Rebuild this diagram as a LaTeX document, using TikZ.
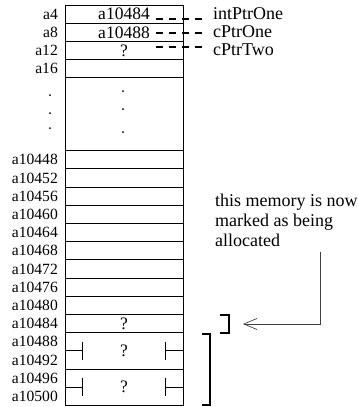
\documentclass[tikz,border=0pt]{standalone}
\usepackage{fontspec}
\setmainfont{Liberation Serif}
\usetikzlibrary{arrows.meta,calc,positioning}

\begin{document}
\begin{tikzpicture}[x=1pt, y=-1pt,
  cell/.style={draw, line width=0.9pt, minimum width=118pt, minimum height=18.2pt, inner sep=0pt, font=\fontsize{17.5}{18}\selectfont},
  addr/.style={anchor=east, inner sep=0pt, font=\fontsize{15.6}{18}\selectfont},
  ptrlabel/.style={anchor=west, inner xsep=9pt, inner ysep=0pt, font=\fontsize{18}{20}\selectfont},
  ptr/.style={line width=1.1pt, dash pattern=on 7pt off 6pt},
  brak/.style={line width=1.4pt},
  alloc/.style={line width=0.7pt, black!75, -{Straight Barb[length=13pt,width=11pt]}}]
\useasboundingbox (0,0) rectangle (358,407);
% Celle in alto
\node[cell] (c1) at (124,14.1) {a10484};
\node[cell] (c2) at (124,32.3) {a10488};
\node[cell] (c3) at (124,50.5) {?};
\node[cell] (c4) at (124,68.7) {};
\node[cell, minimum height=72.8pt] (gap) at (124,114.2) {};
% Celle in basso
\node[cell] (c5) at (124,159.7) {};  \node[cell] (c6) at (124,177.9) {};
\node[cell] (c7) at (124,196.1) {};  \node[cell] (c8) at (124,214.3) {};
\node[cell] (c9) at (124,232.5) {};  \node[cell] (c10) at (124,250.7) {};
\node[cell] (c11) at (124,268.9) {}; \node[cell] (c12) at (124,287.1) {};
\node[cell] (c13) at (124,305.3) {}; \node[cell] (c14) at (124,323.5) {?};
\node[cell, minimum height=36.4pt] (d1) at (124,350.8) {?};
\node[cell, minimum height=36.4pt] (d2) at (124,387.2) {?};
% Indirizzi
\node[addr] (a4) at (58,14.1) {a4};
\node[addr] (a8) at (58,32.3) {a8};
\node[addr] (a12) at (58,50.5) {a12};
\node[addr] (a16) at (58,68.7) {a16};
\node[addr] (b1) at (58,159.7) {a10448}; \node[addr] (b2) at (58,177.9) {a10452};
\node[addr] (b3) at (58,196.1) {a10456}; \node[addr] (b4) at (58,214.3) {a10460};
\node[addr] (b5) at (58,232.5) {a10464}; \node[addr] (b6) at (58,250.7) {a10468};
\node[addr] (b7) at (58,268.9) {a10472}; \node[addr] (b8) at (58,287.1) {a10476};
\node[addr] (b9) at (58,305.3) {a10480}; \node[addr] (b10) at (58,323.5) {a10484};
\node[addr] (b11) at (58,341.7) {a10488}; \node[addr] (b12) at (58,359.9) {a10492};
\node[addr] (b13) at (58,378.1) {a10496}; \node[addr] (b14) at (58,396.3) {a10500};
% Puntini
\fill (50,95) circle (1pt); \fill (50,113) circle (1pt); \fill (50,128) circle (1pt);
\fill (123,91) circle (1pt); \fill (123,109) circle (1pt); \fill (123,132) circle (1pt);
% Blocchi doppi
\draw[line width=0.9pt] (d1.west) -- ++(18,0) ++(0,-9) -- ++(0,18);
\draw[line width=0.9pt] (d1.east) -- ++(-18,0) ++(0,-9) -- ++(0,18);
\draw[line width=0.9pt] (d2.west) -- ++(18,0) ++(0,-9) -- ++(0,18);
\draw[line width=0.9pt] (d2.east) -- ++(-18,0) ++(0,-9) -- ++(0,18);
% Puntatori
\node[ptrlabel] (intp) at (204,14) {intPtrOne};
\node[ptrlabel] (cp1) at (204,32) {cPtrOne};
\node[ptrlabel] (cp2) at (204,50) {cPtrTwo};
\coordinate (p1) at (156,19);
\coordinate (p2) at (156,33);
\coordinate (p3) at (156,47);
\draw[ptr] (p1) -- (p1 -| intp.west);
\draw[ptr] (p2) -- (p2 -| cp1.west);
\draw[ptr] (p3) -- (p3 -| cp2.west);
% Testo e freccia
\node[anchor=north west, align=left, inner sep=0pt, font=\fontsize{18}{20}\selectfont] (note) at (215,194)
  {this memory is now\\marked as being\\allocated};
\coordinate (up) at (320,252);
\coordinate (brk) at (229,324);
\draw[alloc, shorten >=14pt] (up) |- (brk);
% Parentesi
\draw[brak] (220,315) -- (229,315) -- (229,333) -- (220,333);
\draw[brak] (202,334) -- (210,334) -- (210,405) -- (202,405);
\end{tikzpicture}
\end{document}
